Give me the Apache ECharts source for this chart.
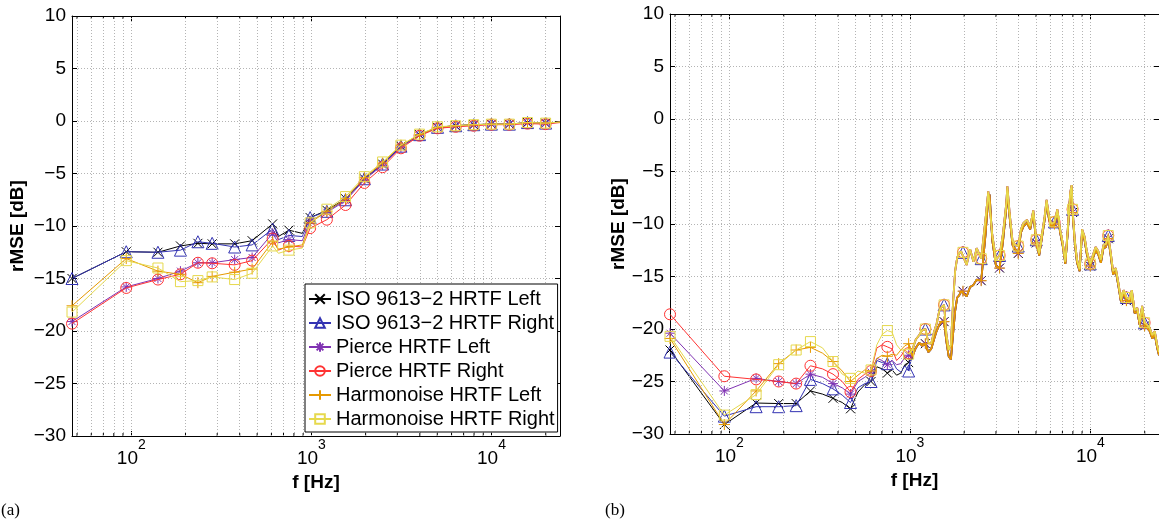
<!DOCTYPE html>
<html><head><meta charset="utf-8">
<script src="https://cdn.jsdelivr.net/npm/echarts@6/dist/echarts.min.js"></script>
<style>html,body{margin:0;padding:0;background:#fff}#c{width:1159px;height:525px}</style>
</head><body><div id="c"></div>
<script>
// ---------- data ----------
const seriesNames = ['ISO 9613\u22122 HRTF Left','ISO 9613\u22122 HRTF Right','Pierce HRTF Left','Pierce HRTF Right','Harmonoise HRTF Left','Harmonoise HRTF Right'];
const earOf = ['L','R','L','R','L','R'];
const yTicks = [-30,-25,-20,-15,-10,-5,0,5,10];
const decades = [100, 1000, 10000];
const minorFreqs = [50,60,70,80,90,200,300,400,500,600,700,800,900,2000,3000,4000,5000,6000,7000,8000,9000,20000];
const markerFreqs = [46.875,93.75,140.625,187.5,234.375,281.25,375,468.75,609.375,750,984.375,1218.75,1546.875,1968.75,2484.375,3140.625,3984.375,5015.625,6328.125,7968.75,9984.375,12562.5,15843.75,19968.75];

// (a)
const freqA = [46.875,93.75,140.625,187.5,234.375,281.25,375,468.75,609.375,656.25,750,890.625,984.375,1218.75,1546.875,1968.75,2484.375,3140.625,3984.375,5015.625,6328.125,7968.75,9984.375,12562.5,15843.75,19968.75,24000];
const isoLeftA   = [-15.0,-12.45,-12.5,-11.9,-11.65,-11.7,-11.7,-11.4,-9.8,-11.0,-10.4,-10.7,-9.2,-8.5,-7.4,-5.5,-4.1,-2.4,-1.3,-0.6,-0.45,-0.35,-0.3,-0.3,-0.15,-0.2,-0.1];
const isoRightA  = [-15.0,-12.45,-12.5,-12.3,-11.5,-11.65,-12.0,-11.8,-10.3,-11.3,-10.9,-11.0,-9.2,-8.6,-7.5,-5.5,-4.1,-2.4,-1.3,-0.6,-0.45,-0.35,-0.3,-0.3,-0.15,-0.2,-0.1];
const pierceLeftA  = [-19.1,-15.8,-15.0,-14.3,-13.5,-13.5,-13.2,-13.0,-10.7,-11.6,-11.3,-11.4,-9.5,-8.7,-7.6,-5.6,-4.2,-2.5,-1.35,-0.65,-0.5,-0.4,-0.3,-0.3,-0.2,-0.25,-0.1];
const pierceRightA = [-19.3,-15.9,-15.1,-14.6,-13.5,-13.55,-13.7,-13.3,-11.2,-12.3,-11.9,-12.0,-10.2,-9.4,-8.0,-5.9,-4.4,-2.6,-1.4,-0.7,-0.55,-0.45,-0.35,-0.35,-0.25,-0.3,-0.15];
const harmLeftA  = [-17.6,-13.1,-14.3,-14.6,-15.4,-14.8,-14.4,-14.1,-11.5,-12.2,-12.0,-11.8,-9.7,-8.6,-7.4,-5.4,-4.0,-2.3,-1.3,-0.6,-0.45,-0.35,-0.3,-0.3,-0.15,-0.2,-0.1];
const harmRightA = [-18.2,-13.3,-14.0,-15.3,-15.2,-14.85,-15.1,-14.5,-11.9,-12.6,-12.3,-12.1,-9.7,-8.4,-7.2,-5.3,-3.9,-2.3,-1.25,-0.55,-0.45,-0.35,-0.3,-0.3,-0.15,-0.2,-0.1];

// (b) low frequencies (per series)
const freqBLow = [46.875,93.75,140.625,187.5,234.375,281.25,328.125,375,421.875,468.75,515.625,562.5,609.375,656.25,703.125,750,796.875,843.75,890.625,937.5,984.375];
const isoLeftB   = [-22.0,-29.1,-27.05,-27.1,-27.1,-25.9,-26.2,-26.6,-27.0,-27.6,-26.0,-25.3,-25.0,-23.6,-23.8,-24.2,-23.9,-24.4,-24.2,-23.4,-23.2];
const isoRightB  = [-22.2,-28.3,-27.4,-27.4,-27.3,-24.8,-25.2,-25.7,-26.3,-27.0,-25.6,-25.2,-25.0,-23.0,-23.2,-23.3,-23.0,-23.8,-24.1,-23.5,-24.0];
const pierceLeftB  = [-20.4,-25.9,-24.7,-25.0,-25.2,-24.3,-24.6,-25.2,-25.6,-26.2,-25.0,-24.6,-24.1,-22.8,-23.0,-23.4,-23.0,-23.4,-23.3,-22.7,-22.5];
const pierceRightB = [-18.6,-24.5,-24.8,-25.0,-25.2,-23.5,-23.8,-24.3,-25.0,-26.0,-24.8,-24.3,-24.0,-21.8,-21.5,-21.7,-21.9,-23.0,-22.6,-22.0,-22.3];
const harmLeftB  = [-20.9,-29.1,-25.9,-23.3,-22.0,-21.75,-22.3,-23.1,-24.0,-25.0,-24.4,-23.9,-24.0,-22.8,-22.5,-22.6,-22.4,-22.5,-22.0,-21.6,-21.4];
const harmRightB = [-20.7,-28.2,-26.25,-23.4,-22.0,-21.2,-21.8,-23.1,-24.3,-24.7,-24.0,-24.2,-23.9,-21.5,-20.5,-20.15,-20.3,-21.5,-22.0,-22.0,-22.4];

// (b) high frequencies (shared per ear, curves overlap)
const freqBHigh = [1031.25,1078.125,1125,1171.875,1218.75,1265.625,1312.5,1359.375,1406.25,1453.125,1500,1546.875,1593.75,1640.625,1687.5,1734.375,1781.25,1828.125,1875,1921.875,1968.75,
  2062.5,2156.25,2250,2343.75,2484.375,2625,2718.75,2765.625,2859.375,3000,
  3140.625,3281.25,3421.875,3468.75,3562.5,3703.125,3843.75,3984.375,4125,4265.625,
  4453.125,4640.625,4828.125,5015.625,5203.125,5390.625,5578.125,5718.75,5906.25,6093.75,
  6328.125,6562.5,6796.875,7031.25,7265.625,7500,7734.375,7875,7968.75,8203.125,
  8437.5,8718.75,9000,9281.25,9562.5,9984.375,10312.5,10687.5,11062.5,11437.5,
  11812.5,12187.5,12562.5,12937.5,13359.375,13828.125,14296.875,14765.625,15281.25,15843.75,
  16406.25,16968.75,17578.125,18187.5,18750,19359.375,19968.75,20625,21328.125,22031.25,
  22734.375,23437.5,24000];
const rightEarHigh = [-22.0,-21.0,-20.6,-20.1,-20.0,-21.3,-21.4,-20.3,-19.5,-18.3,-17.9,-17.7,-20.5,-22.0,-21.5,-17.5,-14.5,-13.2,-12.8,-12.6,-12.7,
  -13.9,-12.4,-13.6,-12.3,-13.3,-9.5,-6.9,-6.8,-11.0,-13.4,
  -13.0,-10.9,-8.0,-6.4,-8.8,-11.6,-12.0,-12.1,-10.5,-9.9,
  -9.6,-10.2,-8.7,-11.5,-12.8,-11.0,-9.3,-7.7,-9.3,-10.0,
  -9.8,-8.6,-10.5,-11.8,-13.6,-10.4,-7.0,-6.3,-8.6,-11.6,
  -13.4,-14.3,-10.5,-11.2,-12.6,-13.8,-13.0,-12.2,-12.6,-13.4,
  -12.0,-11.9,-11.1,-12.6,-14.5,-14.2,-15.6,-17.2,-16.3,-17.0,
  -17.2,-16.3,-18.2,-18.0,-19.3,-17.8,-19.4,-19.6,-19.9,-20.6,
  -20.2,-21.5,-22.2];
const leftEarHigh = [-22.6,-21.8,-21.3,-21.6,-21.4,-22.2,-21.9,-21.0,-20.2,-19.6,-19.3,-19.3,-21.2,-22.6,-22.9,-20.5,-18.3,-17.0,-16.8,-16.4,-16.4,
  -16.9,-16.0,-15.8,-15.3,-15.4,-11.0,-7.5,-7.2,-11.5,-14.0,
  -14.2,-11.6,-8.5,-6.8,-9.2,-12.0,-12.4,-12.8,-10.8,-10.2,
  -9.9,-10.5,-9.0,-11.8,-13.0,-11.3,-9.6,-8.0,-9.6,-10.3,
  -10.0,-8.9,-10.8,-12.1,-13.8,-10.7,-7.3,-6.6,-8.9,-11.9,
  -13.7,-14.5,-10.8,-11.5,-12.9,-14.0,-13.3,-12.5,-12.9,-13.7,
  -12.3,-12.2,-11.4,-12.9,-14.8,-14.5,-15.9,-17.4,-16.6,-17.3,
  -17.5,-16.6,-18.5,-18.3,-19.6,-18.1,-19.7,-19.9,-20.2,-20.9,
  -20.5,-21.8,-22.5];

// ---------- styles ----------
const colors = ['#000000','#3333b3','#8033b3','#ff3333','#e69900','#e6d94d'];
const symbols = [
  'path://M0,0L10,10M10,0L0,10',
  'triangle',
  'path://M5,0L5,10M0,5L10,5M1.5,1.5L8.5,8.5M8.5,1.5L1.5,8.5',
  'circle',
  'path://M5,0L5,10M0,5L10,5',
  'rect'
];
const symSizes = [9, 12, 10, 11, 11, 10];
const FONT = '"Liberation Sans", Arial, sans-serif';

const valsA = [isoLeftA, isoRightA, pierceLeftA, pierceRightA, harmLeftA, harmRightA];
const valsBLow = [isoLeftB, isoRightB, pierceLeftB, pierceRightB, harmLeftB, harmRightB];

function toData(freqs, vals) {
  return freqs.map((f, i) => markerFreqs.indexOf(f) >= 0 ? [f, vals[i]] : { value: [f, vals[i]], symbol: 'none' });
}

const grids = [
  { left: 72, top: 16, width: 488, height: 420 },
  { left: 670, top: 14, width: 490, height: 420 }
];

const xAxes = [], yAxes = [];
const dotted = { color: '#b4b4b4', width: 1, type: [1, 2] };
for (let g = 0; g < 2; g++) {
  xAxes.push({
    type: 'log', logBase: 10, gridIndex: g, min: 46.875, max: 24000, position: 'bottom',
    name: 'f [Hz]', nameLocation: 'middle', nameGap: 22,
    nameTextStyle: { fontFamily: FONT, fontWeight: 'bold', fontSize: 19, color: '#000' },
    axisLine: { onZero: false, lineStyle: { color: '#000', width: 1 } },
    axisTick: { inside: true, length: 5, lineStyle: { color: '#000' } },
    splitLine: { show: false }, minorTick: { show: false },
    axisLabel: {
      showMinLabel: false, showMaxLabel: false, margin: 2, color: '#000',
      formatter: v => decades.some(d => Math.abs(d - v) < 1e-6 * d) ? '{b|10}{s|' + Math.round(Math.log10(v)) + '}' : '',
      rich: {
        b: { fontFamily: FONT, fontSize: 19, lineHeight: 30, color: '#000', verticalAlign: 'bottom' },
        s: { fontFamily: FONT, fontSize: 14, lineHeight: 10, color: '#000', verticalAlign: 'top' }
      }
    }
  });
  xAxes.push({
    type: 'log', logBase: 10, gridIndex: g, min: 46.875, max: 24000, position: 'top',
    axisLine: { onZero: false, lineStyle: { color: '#000', width: 1 } },
    axisTick: { inside: true, length: 5, lineStyle: { color: '#000' } },
    axisLabel: { show: false }, splitLine: { show: false }
  });
  yAxes.push({
    type: 'value', gridIndex: g, min: -30, max: 10, interval: 5, position: 'left',
    name: 'rMSE [dB]', nameLocation: 'middle', nameGap: g === 0 ? 45 : 42,
    nameTextStyle: { fontFamily: FONT, fontWeight: 'bold', fontSize: 19, color: '#000' },
    axisLine: { onZero: false, lineStyle: { color: '#000', width: 1 } },
    axisTick: { inside: true, length: 5, lineStyle: { color: '#000' } },
    splitLine: { show: true, lineStyle: dotted },
    axisLabel: {
      margin: 6, color: '#000', fontFamily: FONT, fontSize: 19,
      formatter: v => yTicks.indexOf(v) >= 0 ? (v < 0 ? '\u2212' + (-v) : String(v)) : ''
    }
  });
  yAxes.push({
    type: 'value', gridIndex: g, min: -30, max: 10, interval: 5, position: 'right',
    axisLine: { onZero: false, lineStyle: { color: '#000', width: 1 } },
    axisTick: { inside: true, length: 5, lineStyle: { color: '#000' } },
    axisLabel: { show: false }, splitLine: { show: false }
  });
}

const series = [];
for (let g = 0; g < 2; g++) {
  series.push({
    type: 'line', name: '_grid' + g, xAxisIndex: g * 2, yAxisIndex: g * 2, data: [], silent: true, z: 1,
    markLine: {
      silent: true, symbol: ['none', 'none'], label: { show: false }, animation: false,
      lineStyle: dotted, emphasis: { disabled: true },
      data: decades.concat(minorFreqs).map(f => ({ xAxis: f }))
    }
  });
  series.push({
    type: 'custom', name: '_minor' + g, xAxisIndex: g * 2, yAxisIndex: g * 2, silent: true, z: 2,
    data: minorFreqs.map(f => [f]),
    renderItem: (params, api) => {
      const b = api.coord([api.value(0), -30]);
      const t = api.coord([api.value(0), 10]);
      const st = { stroke: '#000', lineWidth: 1 };
      return { type: 'group', children: [
        { type: 'line', shape: { x1: b[0], y1: b[1], x2: b[0], y2: b[1] - 3 }, style: st },
        { type: 'line', shape: { x1: t[0], y1: t[1], x2: t[0], y2: t[1] + 3 }, style: st }
      ] };
    }
  });
}
for (let i = 0; i < 6; i++) {
  const common = {
    type: 'line', name: seriesNames[i], symbol: symbols[i], symbolSize: symSizes[i],
    showAllSymbol: true, animation: false, z: 3 + i,
    lineStyle: { color: colors[i], width: 1 },
    itemStyle: { color: 'rgba(0,0,0,0)', borderColor: colors[i], borderWidth: 1 },
    emphasis: { disabled: true }
  };
  series.push(Object.assign({}, common, { xAxisIndex: 0, yAxisIndex: 0, data: toData(freqA, valsA[i]) }));
  // (b) low-frequency part
  series.push(Object.assign({}, common, {
    xAxisIndex: 2, yAxisIndex: 2, data: toData(freqBLow, valsBLow[i])
  }));
  // (b) high-frequency part (dense, overlapping curves -> drawn a bit heavier)
  const hi = earOf[i] === 'L' ? leftEarHigh : rightEarHigh;
  const last = freqBLow.length - 1;
  series.push(Object.assign({}, common, {
    xAxisIndex: 2, yAxisIndex: 2,
    lineStyle: { color: colors[i], width: 1.8 },
    data: [{ value: [freqBLow[last], valsBLow[i][last]], symbol: 'none' }].concat(toData(freqBHigh, hi))
  }));
}

const chart = echarts.init(document.getElementById('c'), null, { renderer: 'canvas' });
chart.setOption({
  backgroundColor: '#fff',
  animation: false,
  grid: grids,
  xAxis: xAxes,
  yAxis: yAxes,
  legend: {
    data: seriesNames, orient: 'vertical', left: 305, top: 284,
    backgroundColor: '#fff', borderColor: '#000', borderWidth: 1, borderRadius: 0,
    padding: [5, 3, 3, 3], itemGap: 4, itemWidth: 22, itemHeight: 12,
    textStyle: { fontFamily: FONT, fontSize: 20, lineHeight: 20, color: '#000' },
    selectedMode: false, z: 20
  },
  graphic: [
    { type: 'text', left: 1, top: 502, style: { text: '(a)', font: '17px "Liberation Serif", "Times New Roman", serif', fill: '#000' } },
    { type: 'text', left: 605, top: 502, style: { text: '(b)', font: '17px "Liberation Serif", "Times New Roman", serif', fill: '#000' } }
  ],
  series: series
});
</script>
</body></html>
